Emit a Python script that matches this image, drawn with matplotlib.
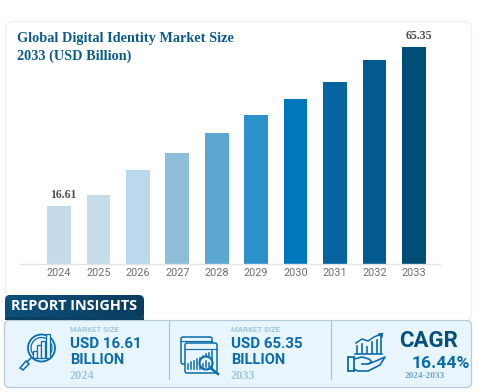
import matplotlib
matplotlib.use("Agg")
import matplotlib.pyplot as plt
from matplotlib.patches import FancyBboxPatch, Circle, Rectangle, Polygon
from matplotlib.colors import LinearSegmentedColormap
import numpy as np

years = ["2024","2025","2026","2027","2028","2029","2030","2031","2032","2033"]
values = [16.61,19.9,27.6,32.8,38.9,44.5,49.4,54.6,61.4,65.35]
colors = ["#c3dbea","#c6dcea","#bcd8ec","#8dbdd9","#5ca6d2","#2b90cc","#0077bd","#04659f","#035a8f","#024d75"]
labelled = {"2024":"16.61","2033":"65.35"}
title_lines = ["Global Digital Identity Market Size","2033 (USD Billion)"]
W,H = 478,392
BLUE="#0b6cab"; DARK="#05507c"; PALE="#9fc6de"

fig = plt.figure(figsize=(W/100,H/100),dpi=100,facecolor="white")
bg = fig.add_axes([0,0,1,1]); bg.set_xlim(0,W); bg.set_ylim(H,0); bg.axis("off")

bg.add_patch(FancyBboxPatch((5.5,21.5),466,300,boxstyle="round,pad=0,rounding_size=8",fc="white",ec="#f0f0f0",lw=1.0))

base=-1.2; slope=3.256
top_px=30; bot_px=263.5
ymax=base+(bot_px-top_px)/slope
left_px=20; right_px=440
ax = fig.add_axes([left_px/W,1-bot_px/H,(right_px-left_px)/W,(bot_px-top_px)/H])
ax.patch.set_alpha(0)
x=np.arange(len(years))
ax.bar(x,[v-base for v in values],bottom=base,width=0.6,color=colors,linewidth=0)
ax.set_xticks(x,years)
ax.set_xlim((left_px-59)/39.44,(right_px-59)/39.44)
ax.set_ylim(base,ymax)
ax.set_yticks([])
for s in ["top","left","right"]: ax.spines[s].set_visible(False)
ax.spines["bottom"].set_color("#e4e4e4"); ax.spines["bottom"].set_linewidth(1)
ax.tick_params(axis="x",length=0,pad=3.5,labelsize=7.8,labelcolor="#6e6e6e")
for lab in ax.get_xticklabels(): lab.set_family("Roboto")
for xi,y,v in zip(x,years,values):
    if y in labelled:
        ax.annotate(labelled[y],(xi,v),xytext=(3.4,3.2),textcoords="offset points",ha="center",va="bottom",
                    fontsize=8.6,family="Liberation Serif",fontweight="bold",color="#505050",annotation_clip=False)

for i,t_ in enumerate(title_lines):
    bg.text(17.5,38+i*18,t_,fontsize=10.3,family="Liberation Serif",fontweight="bold",color="#0a5a8c",va="center",ha="left")

# Panel
bg.add_patch(FancyBboxPatch((4.5,320.5),467,67,boxstyle="round,pad=0,rounding_size=5",fc="#e8f5fd",ec="#b4cbd9",lw=0.9))
for xx in (169.5,331.5):
    bg.plot([xx,xx],[321,379],color="#a5bfcf",lw=0.8)
# Banner
grad=np.linspace(0,1,64).reshape(1,-1)
cm=LinearSegmentedColormap.from_list("b",["#0d5078","#0a3c60"])
bn=FancyBboxPatch((5,295),139,25,boxstyle="round,pad=0,rounding_size=5",fc="none",ec="none")
bg.add_patch(bn)
im=bg.imshow(grad,extent=(5,144,320,295),cmap=cm,aspect="auto",zorder=2)
im.set_clip_path(bn)
bg.add_patch(Rectangle((5,317),139,3,fc="#0b4062",ec="none",zorder=2.1))
bg.set_xlim(0,W); bg.set_ylim(H,0)
bg.text(11.5,305.5,"REPORT INSIGHTS",fontsize=10.4,family="Open Sans",fontweight="bold",color="white",va="center",ha="left",zorder=3)

def t(x,y,s,size,color,fam="Roboto",w="bold",ha="left"):
    bg.text(x,y,s,fontsize=size,family=fam,fontweight=w,color=color,va="center",ha=ha,zorder=3)
t(70,329,"MARKET SIZE",5.6,PALE)
t(70,344,"USD 16.61",10.9,BLUE)
t(70,360,"BILLION",10.5,BLUE)
t(69.5,376,"2024",8.8,PALE,"Liberation Serif")
t(231,329,"MARKET SIZE",5.6,PALE)
t(231,344,"USD 65.35",10.9,BLUE)
t(231,360,"BILLION",10.5,BLUE)
t(231,376,"2033",8.8,PALE,"Liberation Serif")
t(399,341,"CAGR",16.0,DARK)
t(411.5,363,"16.44%",12.6,BLUE)
t(405,376.5,"2024-2033",6.7,"#6fa6c8","Liberation Serif")

# Icon 1: magnifier with bars
ic=dict(color=BLUE,lw=1.2,solid_capstyle="round",zorder=3)
bg.add_patch(Circle((41.5,348),13.5,fc="none",ec=BLUE,lw=1.3,zorder=3))
bg.add_patch(Circle((41.5,348),10.5,fc="none",ec=BLUE,lw=0.9,zorder=3))
for xx,h0 in ((33,351),(37,345),(41,341),(46,334)):
    bg.add_patch(Rectangle((xx,h0),3.6,358-h0,fc="#e8f5fd",ec=BLUE,lw=0.9,zorder=3.1))
bg.plot([31,27],[358,362],**ic)
bg.add_patch(Polygon([[26,361],[29,364],[23,370],[20,368]],closed=True,fc="#e8f5fd",ec=BLUE,lw=1.1,zorder=3))

# Icon 2: windows with chart and magnifier
bg.add_patch(FancyBboxPatch((181,337),31,27,boxstyle="round,pad=0,rounding_size=2",fc="#e8f5fd",ec=BLUE,lw=1.1,zorder=3))
bg.add_patch(FancyBboxPatch((185,343),32,30,boxstyle="round,pad=0,rounding_size=2",fc="#e8f5fd",ec=BLUE,lw=1.1,zorder=3.1))
bg.plot([185,217],[349,349],color=BLUE,lw=0.8,zorder=3.2)
bg.plot([181,212],[341,341],color=BLUE,lw=0.8,zorder=3.05)
for i,xx in enumerate(np.arange(188,213,3)):
    bg.plot([xx,xx],[369,364-i*1.6],color=BLUE,lw=1.1,zorder=3.2)
bg.add_patch(Circle((206,363),6.5,fc="#e8f5fd",ec=BLUE,lw=1.5,zorder=3.3))
for xx,yy in ((203,364),(206,361),(209,363)):
    bg.plot([xx,xx],[367,yy],color=BLUE,lw=1.1,zorder=3.4)
bg.plot([210.5,218],[368,374],color=BLUE,lw=1.8,zorder=3.3)

# Icon 3: hand with growing chart
for xx,yy in ((357,346),(362,344),(367,347),(372,342),(377,340),(381,338)):
    bg.plot([xx,xx],[353,yy],color=BLUE,lw=1.2,zorder=3)
bg.plot([355,382],[354,354],color=BLUE,lw=1.2,zorder=3)
bg.plot([356,362,368,374,381],[343,339,341,337,334],color=BLUE,lw=1.1,zorder=3)
bg.add_patch(Polygon([[383,333],[378,334],[382,338]],closed=True,fc=BLUE,ec=BLUE,lw=0.5,zorder=3))
bg.add_patch(Rectangle((348,357),6,14,fc="#e8f5fd",ec=BLUE,lw=1.3,zorder=3))
bg.plot([354,362,369,372,368,362],[359,357,359,362,364,364],color=BLUE,lw=1.2,zorder=3)
bg.plot([368,376,385,380,368,358,354],[364,361,357,365,371,371,369],color=BLUE,lw=1.2,zorder=3)

fig.savefig("out.png",dpi=100,facecolor="white")
